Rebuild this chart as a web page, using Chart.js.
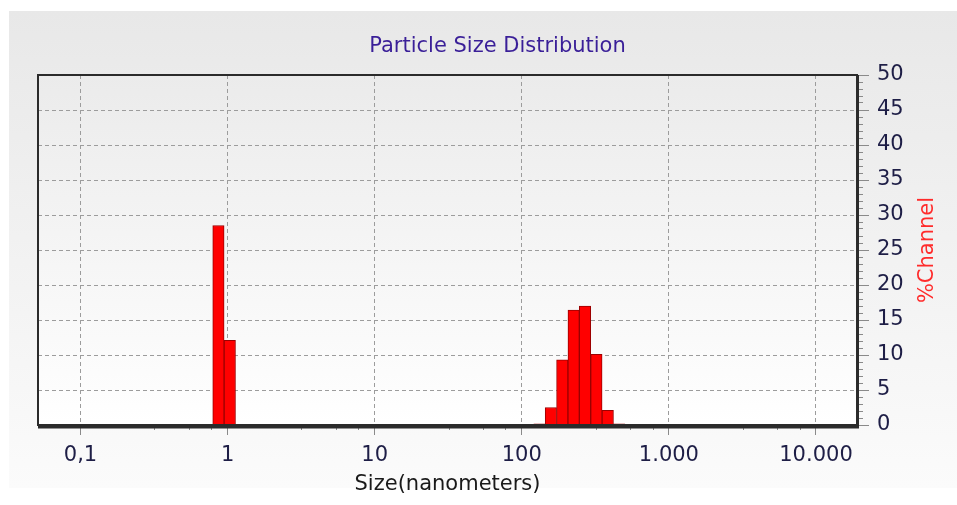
<!DOCTYPE html>
<html>
<head>
<meta charset="utf-8">
<script src="https://cdn.jsdelivr.net/npm/chart.js@4.4.1/dist/chart.umd.min.js"></script>
<style>
  html, body { margin: 0; padding: 0; background: #fff; }
  #wrap { position: relative; width: 957px; height: 505px; }
  #panel { position: absolute; left: 9px; top: 11px; width: 948px; height: 477px; background: linear-gradient(#e8e8e8, #fbfbfb); }
  #chart { position: absolute; left: 0; top: 0; }
</style>
</head>
<body>
<div id="wrap">
  <div id="panel"></div>
  <canvas id="chart" width="957" height="505"></canvas>
</div>
<script>
// channel centres (nm) and % per channel
const sizes = [0.866, 1.035, 131.9, 157.6, 188.4, 225.1, 269.0, 321.5, 384.2, 459.1];
const percents = [28.5, 12.1, 0.15, 2.5, 9.3, 16.4, 17.0, 10.1, 2.1, 0.15];

const sizeTicks = [0.1, 1, 10, 100, 1000, 10000];
const sizeTickLabels = ["0,1", "1", "10", "100", "1.000", "10.000"];
const minorSizeTicks = [0.32, 0.55, 0.78, 3.2, 5.5, 7.8, 32, 55, 78, 320, 550, 780, 3200, 5500, 7800];
const sizeMin = 0.0514;
const sizeMax = 19000;
const percentMin = 0;
const percentMax = 50;

const FONT = '"DejaVu Sans", Verdana, sans-serif';

// plot background gradient + dark frame around the plot area
const frame = {
    id: 'frame',
    beforeDraw(chart) {
        const { ctx, chartArea: a } = chart;
        const g = ctx.createLinearGradient(0, a.top, 0, a.bottom);
        g.addColorStop(0, '#ebebeb');
        g.addColorStop(1, '#ffffff');
        ctx.save();
        ctx.fillStyle = g;
        ctx.fillRect(a.left, a.top, a.width, a.height);
        ctx.restore();
    },
    afterDatasetsDraw(chart) {
        const { ctx, chartArea: a } = chart;
        ctx.save();
        ctx.strokeStyle = '#2b2b2b';
        ctx.lineWidth = 2;
        ctx.strokeRect(a.left, a.top, a.width, a.height);
        ctx.lineWidth = 3;
        ctx.beginPath();
        ctx.moveTo(a.right + 0.5, a.top);
        ctx.lineTo(a.right + 0.5, a.bottom + 2);
        ctx.lineTo(a.left, a.bottom + 2);
        ctx.stroke();
        ctx.restore();
    }
};

// right axis title reads bottom-to-top, which chart.js won't do on a right axis
const channelTitle = {
    id: 'channelTitle',
    afterDraw(chart) {
        const { ctx, chartArea: a } = chart;
        const y = chart.scales.y;
        ctx.save();
        ctx.translate(y.right - 29, (a.top + a.bottom) / 2);
        ctx.rotate(-Math.PI / 2);
        ctx.font = '21px ' + FONT;
        ctx.fillStyle = '#ff2b2b';
        ctx.textAlign = 'center';
        ctx.textBaseline = 'middle';
        ctx.fillText('%Channel', 0, 0);
        ctx.restore();
    }
};

const gridColor = '#9c9c9c';
const tickColor = '#8a8a8a';
const labelColor = '#1e1e46';

new Chart(document.getElementById('chart'), {
    type: 'bar',
    data: {
        datasets: [{
            label: '%Channel',
            data: sizes.map((s, i) => ({ x: s, y: percents[i] })),
            backgroundColor: '#ff0000',
            borderColor: '#9a0000',
            borderWidth: 1,
            barPercentage: 1,
            categoryPercentage: 1,
            xAxisID: 'x',
            yAxisID: 'y',
        }],
    },
    options: {
        responsive: false,
        animation: false,
        events: [],
        layout: { padding: { left: 38, right: 0, top: 0, bottom: 0 } },
        plugins: {
            legend: { display: false },
            tooltip: { enabled: false },
            title: {
                display: true,
                text: 'Particle Size Distribution',
                color: '#3a1f98',
                font: { family: FONT, size: 21, weight: 'normal' },
                padding: { top: 34, bottom: 15.8 },
            },
        },
        scales: {
            x: {
                type: 'logarithmic',
                position: 'bottom',
                weight: 1,
                min: sizeMin,
                max: sizeMax,
                offset: false,
                afterBuildTicks: s => { s.ticks = sizeTicks.map(v => ({ value: v })); },
                afterFit: s => { s.height = 80; },
                grid: { offset: false, color: gridColor, tickColor: tickColor, tickLength: 10, lineWidth: 1 },
                border: { display: false, dash: [4, 3] },
                ticks: {
                    autoSkip: false,
                    maxRotation: 0,
                    padding: 8,
                    color: labelColor,
                    font: { family: FONT, size: 21 },
                    callback: (v, i) => sizeTickLabels[i],
                },
                title: {
                    display: true,
                    text: 'Size(nanometers)',
                    color: '#1a1a1a',
                    font: { family: FONT, size: 21 },
                    padding: { top: 0, bottom: 8 },
                },
            },
            x2: {
                type: 'logarithmic',
                position: 'bottom',
                weight: 0,
                min: sizeMin,
                max: sizeMax,
                offset: false,
                afterBuildTicks: s => { s.ticks = minorSizeTicks.map(v => ({ value: v })); },
                afterFit: s => { s.height = 0; },
                grid: { offset: false, drawOnChartArea: false, tickColor: tickColor, tickLength: 5 },
                border: { display: false },
                ticks: { display: false },
            },
            y: {
                type: 'linear',
                position: 'right',
                weight: 1,
                min: percentMin,
                max: percentMax,
                afterFit: s => { s.width = 100; },
                grid: { color: gridColor, tickColor: tickColor, tickLength: 12, lineWidth: 1 },
                border: { display: false, dash: [4, 3] },
                ticks: {
                    stepSize: 5,
                    autoSkip: false,
                    padding: 8,
                    color: labelColor,
                    font: { family: FONT, size: 21 },
                },
            },
            y2: {
                type: 'linear',
                position: 'right',
                weight: 0,
                min: percentMin,
                max: percentMax,
                afterFit: s => { s.width = 0; },
                grid: { drawOnChartArea: false, tickColor: tickColor, tickLength: 6 },
                border: { display: false },
                ticks: { display: false, stepSize: 1 },
            },
        },
    },
    plugins: [frame, channelTitle],
});
</script>
</body>
</html>
